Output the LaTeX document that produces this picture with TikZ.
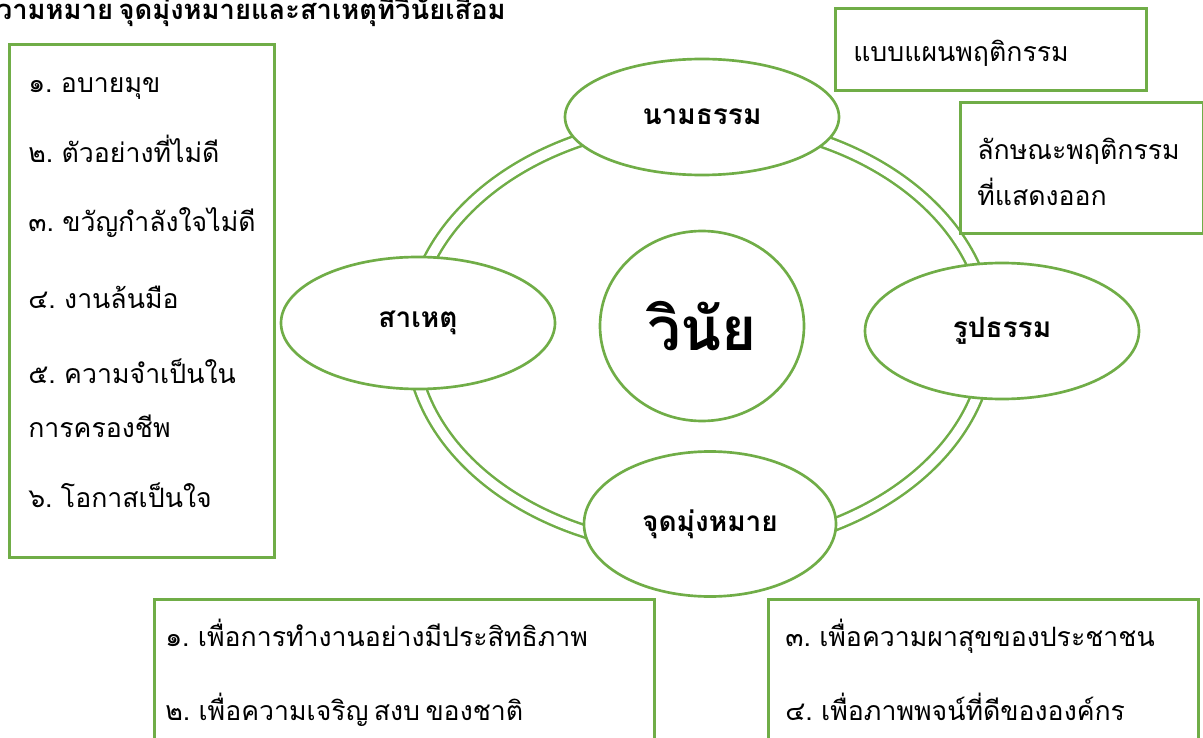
\documentclass[tikz,border=0pt]{standalone}
\usepackage{fontspec}
\newfontfamily\thai[Script=Thai, WordSpace=0.6]{Loma}
\usetikzlibrary{shapes.geometric,positioning}
\definecolor{leafgreen}{HTML}{70AD47}

\begin{document}
\begin{tikzpicture}[x=0.75pt, y=-0.75pt,
        box/.style={draw=leafgreen, line width=2pt, rectangle, anchor=north west, inner sep=0pt},
        oval/.style={draw=leafgreen, line width=2pt, ellipse, fill=white, inner sep=0pt,
            font=\thai\bfseries\fontsize{21}{25}\selectfont},
        entry/.style={anchor=base west, inner sep=0pt, font=\thai\fontsize{20}{24}\selectfont},
        ringline/.style={draw=leafgreen, line width=1.9pt, double=white, double distance=7pt}
    ]
        \useasboundingbox (0,0) rectangle (1203,738);

        % Title (cut at the page edge)
        \node [anchor=base east, inner sep=0pt, font=\thai\bfseries\fontsize{20.5}{24}\selectfont]
            (title) at (506,20) {ความหมาย จุดมุ่งหมายและสาเหตุที่วินัยเสื่อม};

        % Double ring behind the ovals
        \draw [ringline] (700,335) ellipse [x radius=289, y radius=214];

        % Ovals
        \node [oval, minimum width=274*0.75pt, minimum height=116*0.75pt] (abstract) at (702,117) {นามธรรม};
        \node [oval, minimum width=274*0.75pt, minimum height=136*0.75pt] (concrete) at (1002,331) {รูปธรรม};
        \node [oval, minimum width=274*0.75pt, minimum height=132*0.75pt] (cause) at (418,323) {สาเหตุ};
        \node [oval, minimum width=252*0.75pt, minimum height=145*0.75pt] (aim) at (710,524) {จุดมุ่งหมาย};
        \node [oval, minimum width=204*0.75pt, minimum height=190*0.75pt,
            font=\thai\bfseries\fontsize{45}{50}\selectfont] (vinai) at (702,326) {วินัย};

        % Causes
        \node [box, minimum width=265*0.75pt, minimum height=513*0.75pt] (causebox) at (8,43) {};
        \foreach \txt/\yy [count=\i] in {{๑. อบายมุข}/93, {๒. ตัวอย่างที่ไม่ดี}/163,
                {๓. ขวัญกำลังใจไม่ดี}/232, {๔. งานล้นมือ}/308, {๕. ความจำเป็นใน}/383,
                {การครองชีพ}/437, {๖. โอกาสเป็นใจ}/507}
            \node [entry] (cause\i) at (28,\yy) {\txt};

        % Behaviour boxes
        \node [box, minimum width=311*0.75pt, minimum height=82*0.75pt] (patternbox) at (834,7) {};
        \node [entry] (pattern) at (853,62) {แบบแผนพฤติกรรม};
        \node [box, minimum width=243*0.75pt, minimum height=131*0.75pt] (showbox) at (959,101) {};
        \node [entry] (show1) at (977,160) {ลักษณะพฤติกรรม};
        \node [entry] (show2) at (977,205) {ที่แสดงออก};

        % Aims
        \node [box, minimum width=500*0.75pt, minimum height=170*0.75pt] (aimleft) at (153,598) {};
        \node [entry] (aim1) at (165,646) {๑. เพื่อการทำงานอย่างมีประสิทธิภาพ};
        \node [entry] (aim2) at (165,720) {๒. เพื่อความเจริญ สงบ ของชาติ};
        \node [box, minimum width=430*0.75pt, minimum height=170*0.75pt] (aimright) at (767,598) {};
        \node [entry] (aim3) at (785,646) {๓. เพื่อความผาสุขของประชาชน};
        \node [entry] (aim4) at (785,720) {๔. เพื่อภาพพจน์ที่ดีขององค์กร};
    \end{tikzpicture}
\end{document}
